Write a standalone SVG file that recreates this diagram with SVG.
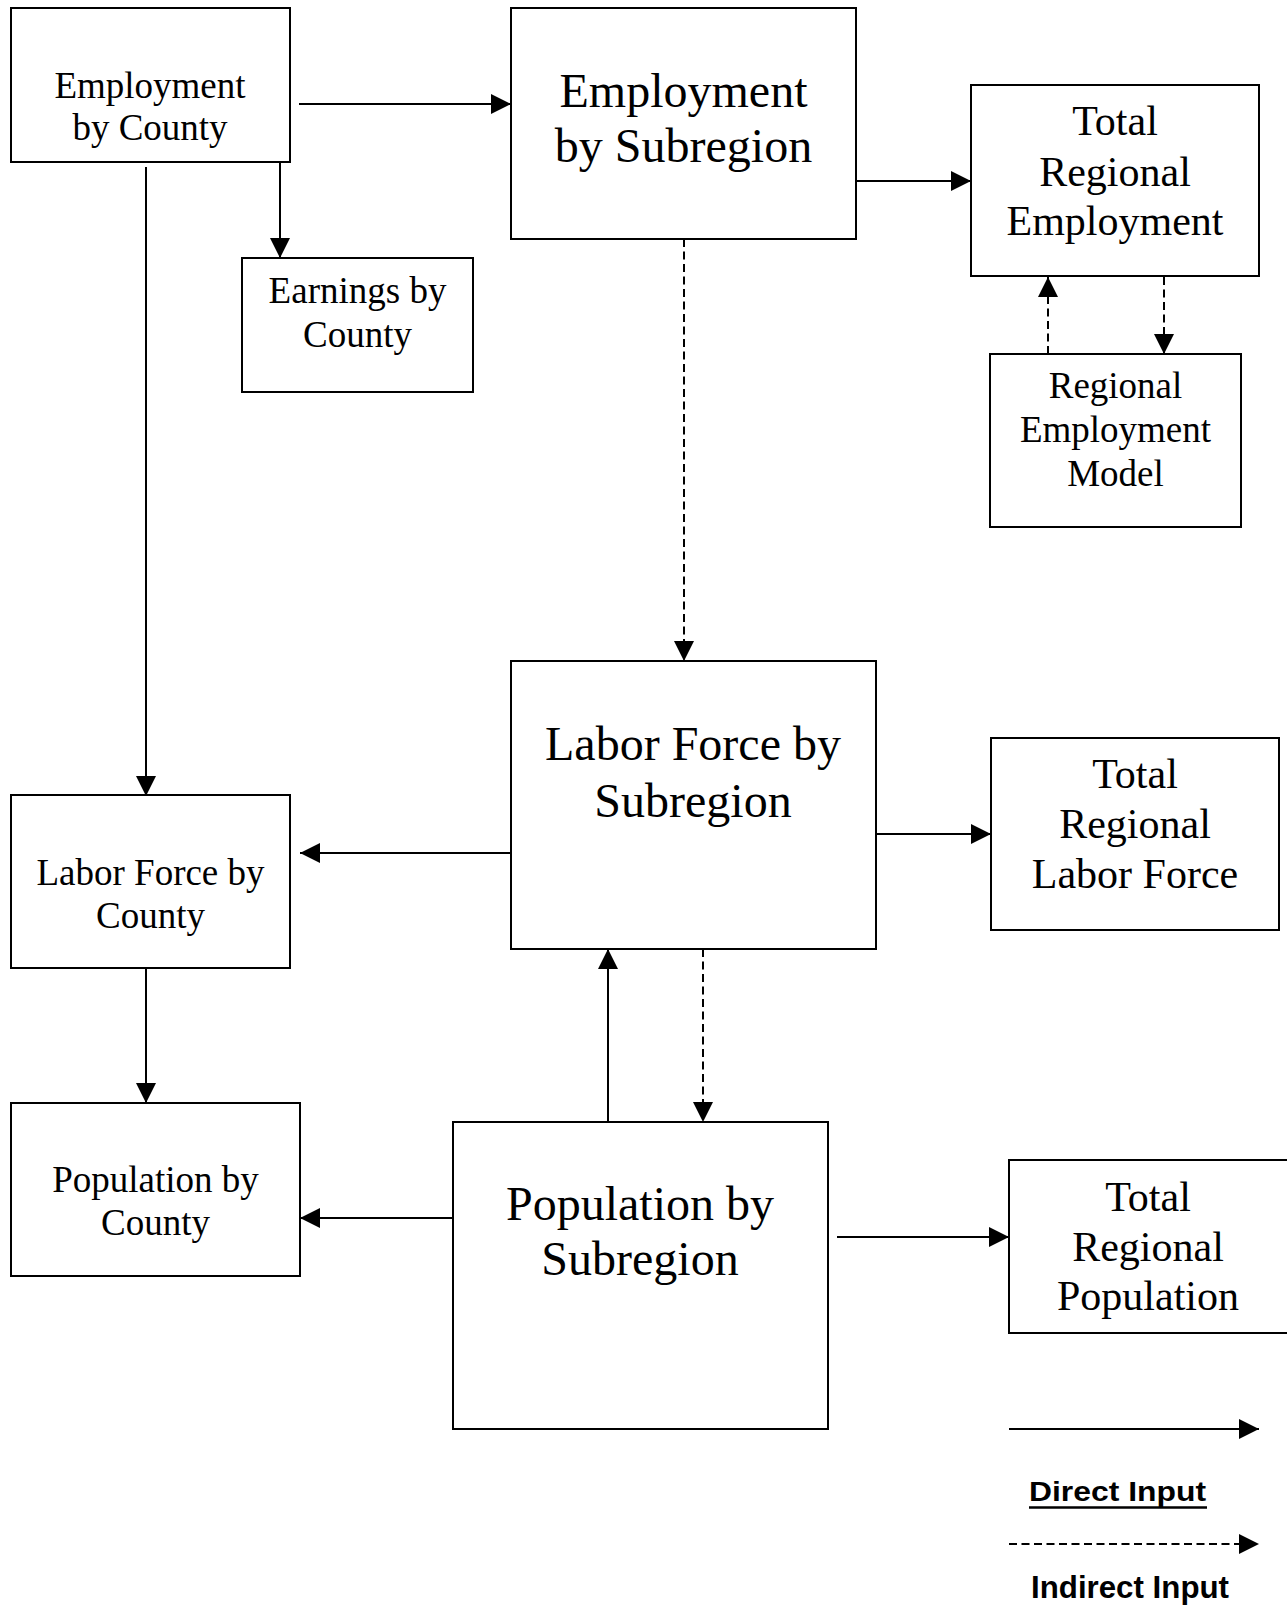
<svg xmlns="http://www.w3.org/2000/svg" width="1287" height="1608" viewBox="0 0 1287 1608">
<style>
.box{fill:#fff;stroke:#000;stroke-width:2}
.t{font-family:"Liberation Serif","Times New Roman",serif;fill:#000;text-anchor:middle}
.s37{font-size:37px}
.s42{font-size:42px}
.s48{font-size:48px}
.c{stroke:#000;stroke-width:2;fill:none;marker-end:url(#ah)}
.d{stroke-dasharray:8 4.5}
.lg{font-family:"Liberation Sans",Arial,sans-serif;font-weight:bold;fill:#000}
</style>
<defs>
<marker id="ah" viewBox="0 0 20 20" refX="20" refY="10" markerWidth="20" markerHeight="20" markerUnits="userSpaceOnUse" orient="auto">
<path d="M0,0 L20,10 L0,20 Z" fill="#000"/>
</marker>
</defs>
<rect width="1287" height="1608" fill="#fff"/>

<g id="connectors">
<line class="c" x1="299" y1="104" x2="511" y2="104"/>
<line class="c" x1="280" y1="162" x2="280" y2="258"/>
<line class="c" x1="146" y1="167" x2="146" y2="796"/>
<line class="c" x1="856" y1="181" x2="971" y2="181"/>
<line class="c d" x1="684" y1="239" x2="684" y2="661"/>
<line class="c d" x1="1048" y1="354" x2="1048" y2="277"/>
<line class="c d" x1="1164" y1="277" x2="1164" y2="354"/>
<line class="c" x1="511" y1="853" x2="300" y2="853"/>
<line class="c" x1="876" y1="834" x2="991" y2="834"/>
<line class="c" x1="146" y1="968" x2="146" y2="1103"/>
<line class="c" x1="608" y1="1122" x2="608" y2="949"/>
<line class="c d" x1="703" y1="949" x2="703" y2="1122"/>
<line class="c" x1="453" y1="1218" x2="300" y2="1218"/>
<line class="c" x1="837" y1="1237" x2="1009" y2="1237"/>
</g>

<g id="emp-county">
<rect class="box" x="11" y="8" width="279" height="154"/>
<text class="t s37" x="150" y="98">Employment</text>
<text class="t s37" x="150" y="140">by County</text>
</g>

<g id="earn-county">
<rect class="box" x="242" y="258" width="231" height="134"/>
<text class="t s37" x="357.5" y="303">Earnings by</text>
<text class="t s37" x="357.5" y="347">County</text>
</g>

<g id="emp-subregion">
<rect class="box" x="511" y="8" width="345" height="231"/>
<text class="t s48" x="683.5" y="107">Employment</text>
<text class="t s48" x="683.5" y="162">by Subregion</text>
</g>

<g id="total-reg-emp">
<rect class="box" x="971" y="85" width="288" height="191"/>
<text class="t s42" x="1115" y="135">Total</text>
<text class="t s42" x="1115" y="186">Regional</text>
<text class="t s42" x="1115" y="235">Employment</text>
</g>

<g id="reg-emp-model">
<rect class="box" x="990" y="354" width="251" height="173"/>
<text class="t s37" x="1115.5" y="398">Regional</text>
<text class="t s37" x="1115.5" y="442">Employment</text>
<text class="t s37" x="1115.5" y="486">Model</text>
</g>

<g id="labor-subregion">
<rect class="box" x="511" y="661" width="365" height="288"/>
<text class="t s48" x="693" y="760">Labor Force by</text>
<text class="t s48" x="693" y="817">Subregion</text>
</g>

<g id="total-reg-labor">
<rect class="box" x="991" y="738" width="288" height="192"/>
<text class="t s42" x="1135" y="788">Total</text>
<text class="t s42" x="1135" y="838">Regional</text>
<text class="t s42" x="1135" y="888">Labor Force</text>
</g>

<g id="labor-county">
<rect class="box" x="11" y="795" width="279" height="173"/>
<text class="t s37" x="150.5" y="885">Labor Force by</text>
<text class="t s37" x="150.5" y="928">County</text>
</g>

<g id="pop-county">
<rect class="box" x="11" y="1103" width="289" height="173"/>
<text class="t s37" x="155.5" y="1192">Population by</text>
<text class="t s37" x="155.5" y="1235">County</text>
</g>

<g id="pop-subregion">
<rect class="box" x="453" y="1122" width="375" height="307"/>
<text class="t s48" x="640" y="1220">Population by</text>
<text class="t s48" x="640" y="1275">Subregion</text>
</g>

<g id="total-reg-pop">
<rect class="box" x="1009" y="1160" width="290" height="173"/>
<text class="t s42" x="1148" y="1211">Total</text>
<text class="t s42" x="1148" y="1261">Regional</text>
<text class="t s42" x="1148" y="1310">Population</text>
</g>

<g id="legend">
<line class="c" x1="1009" y1="1429" x2="1259" y2="1429"/>
<text class="lg" x="1029" y="1501" font-size="27" textLength="177" lengthAdjust="spacingAndGlyphs">Direct Input</text>
<line x1="1029" y1="1507.5" x2="1207" y2="1507.5" stroke="#000" stroke-width="2.6"/>
<line class="c d" x1="1009" y1="1544" x2="1259" y2="1544"/>
<text class="lg" x="1031" y="1598" font-size="31.5" textLength="198" lengthAdjust="spacingAndGlyphs">Indirect Input</text>
</g>
</svg>
